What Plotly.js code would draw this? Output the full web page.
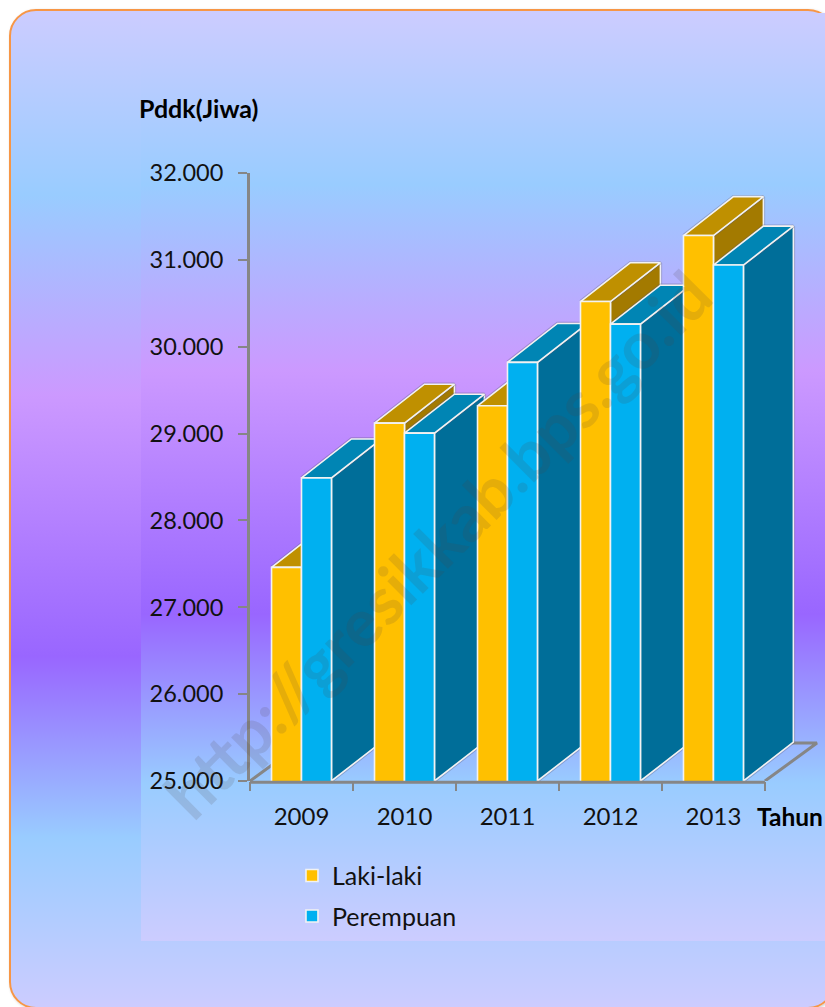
<!DOCTYPE html>
<html>
<head>
<meta charset="utf-8">
<script src="https://cdn.plot.ly/plotly-3.0.1.min.js"></script>
<style>
html,body{margin:0;padding:0;width:825px;height:1007px;overflow:hidden;background:#fff}
#panel{position:absolute;left:9px;top:9px;width:822px;height:996px;border:2px solid #F79646;border-radius:27px;box-shadow:1px 1px 3px rgba(0,0,0,.2);
background:linear-gradient(180deg,#CCCCFF 0%,#99CCFF 18.5%,#CC99FF 38.6%,#9966FF 64.8%,#99CCFF 83%,#CCCCFF 100%)}
#inner{position:absolute;left:141px;top:13px;width:684px;height:928px;
background:linear-gradient(180deg,#CCCCFF 0%,#99CCFF 18.5%,#CC99FF 38.6%,#9966FF 64.8%,#99CCFF 83%,#CCCCFF 100%)}
#chart{position:absolute;left:0;top:0;width:825px;height:1007px}
</style>
</head>
<body>
<div id="panel"></div>
<div id="inner"></div>
<div id="chart"></div>
<script>
const categories = ['2009','2010','2011','2012','2013'];
const lakiLaki  = [27460,29120,29320,30520,31280];
const perempuan = [28490,29005,29820,30260,30940];
const yTicks = [25000,26000,27000,28000,29000,30000,31000,32000];

const BASE = 25000, W = 0.291, DX = 0.485, DY = 448, FX = 0.505, FY = 437;
const XR = [-0.5, 5.083];
const LINE = '#F2F2F2', AXIS = '#868686', SHADOW = 'rgba(90,90,120,0.35)';
const FONT = 'Lato, Carlito, sans-serif';
const axisName = n => n === 0 ? 'x' : 'x' + (n + 1);

function face(xs, ys, fill, xa) {
  const common = {type:'scatter', mode:'lines', x:xs, y:ys, xaxis:xa, yaxis:'y', showlegend:false, hoverinfo:'skip', cliponaxis:false};
  return [
    Object.assign({}, common, {line:{color:SHADOW, width:3.4}}),
    Object.assign({}, common, {fill:'toself', fillcolor:fill, line:{color:LINE, width:1.6}})
  ];
}
function sideFaces(x0, v, top, side, xa) {
  const x1 = x0 + W;
  return [
    ...face([x1,x1+DX,x1+DX,x1,x1],[v,v+DY,BASE+DY,BASE,v], side, xa),
    ...face([x0,x0+DX,x1+DX,x1,x0],[v,v+DY,v+DY,v,v], top, xa)
  ];
}

const traces = [];
const n = categories.length;
traces.push({type:'scatter', mode:'lines', x:[-0.5,-0.5+FX,n-0.5+FX,n-0.5], y:[BASE,BASE+FY,BASE+FY,BASE],
  line:{color:AXIS,width:3}, xaxis:'x', yaxis:'y', showlegend:false, hoverinfo:'skip', cliponaxis:false});

categories.forEach((c,k) => {
  const xa = axisName(2*k), xb = axisName(2*k+1);
  traces.push(...sideFaces(k-W, lakiLaki[k], '#BF9000', '#A37A00', xa));
  traces.push(...sideFaces(k, perempuan[k], '#0085B4', '#006E99', xa));
  traces.push({type:'bar', name:'Laki-laki', legendgroup:'L', showlegend:k===0, x:[k], y:[lakiLaki[k]], width:W, offset:-W,
    marker:{color:'#FFC000', line:{color:LINE,width:1.6}}, xaxis:xb, yaxis:'y', hoverinfo:'y'});
  traces.push({type:'bar', name:'Perempuan', legendgroup:'P', showlegend:k===0, x:[k], y:[perempuan[k]], width:W, offset:0,
    marker:{color:'#00B0F0', line:{color:LINE,width:1.6}}, xaxis:xb, yaxis:'y', hoverinfo:'y'});
});

const layout = {
  width:825, height:1007, paper_bgcolor:'rgba(0,0,0,0)', plot_bgcolor:'rgba(0,0,0,0)',
  margin:{l:250,r:0,t:172.5,b:226}, barmode:'overlay', separators:',.', autosize:false,
  font:{family:FONT,size:24,color:'#111'},
  showlegend:true,
  legend:{x:0.073,xanchor:'left',y:-0.118,yanchor:'top',bgcolor:'rgba(0,0,0,0)',tracegroupgap:5,traceorder:'grouped',font:{family:FONT,size:25,color:'#111'}},
  xaxis:{range:XR, fixedrange:true, tickmode:'array', tickvals:categories.map((c,i)=>i), ticktext:categories, ticks:'',
    ticklabelstandoff:19, showgrid:false, zeroline:false, showline:false, tickfont:{family:FONT,size:24,color:'#111'},
    minor:{tickmode:'array', tickvals:[-0.5,0.5,1.5,2.5,3.5,4.5], ticks:'outside', ticklen:9, tickwidth:2, tickcolor:AXIS, showgrid:false}},
  yaxis:{range:[25000,32000], fixedrange:true, tickmode:'array', tickvals:yTicks, tickformat:',d', ticks:'outside', ticklen:9, tickwidth:2, tickcolor:AXIS,
    ticklabelstandoff:10, showgrid:false, zeroline:false, showline:true, linecolor:AXIS, linewidth:3, tickfont:{family:FONT,size:23.5,color:'#111'}},
  shapes:[{type:'line', layer:'above', xref:'x', yref:'paper', x0:-0.515, x1:n-0.5, y0:-0.002, y1:-0.002, line:{color:AXIS,width:3}}],
  annotations:[
    {text:'<b>Pddk(Jiwa)</b>', xref:'paper', yref:'paper', x:-0.1965, xanchor:'left', y:1.1074, yanchor:'middle', showarrow:false, font:{family:FONT,size:25,color:'#000'}},
    {text:'<b>Tahun</b>', xref:'paper', yref:'paper', x:0.8783, xanchor:'left', y:-0.059, yanchor:'middle', showarrow:false, font:{family:FONT,size:24.5,color:'#000'}},
    {text:'<b>http://gresikkab.bps.go.id</b>', xref:'paper', yref:'paper', x:0.325, xanchor:'center', y:0.391, yanchor:'middle', textangle:-45, showarrow:false, font:{family:FONT,size:66,color:'rgba(80,70,60,0.15)'}}
  ]
};
for (let i = 1; i < 2*n; i++) {
  layout['xaxis'+(i+1)] = {overlaying:'x', matches:'x', range:XR, visible:false, fixedrange:true};
}
Plotly.newPlot('chart', traces, layout, {displayModeBar:false, staticPlot:true});
</script>
</body>
</html>
